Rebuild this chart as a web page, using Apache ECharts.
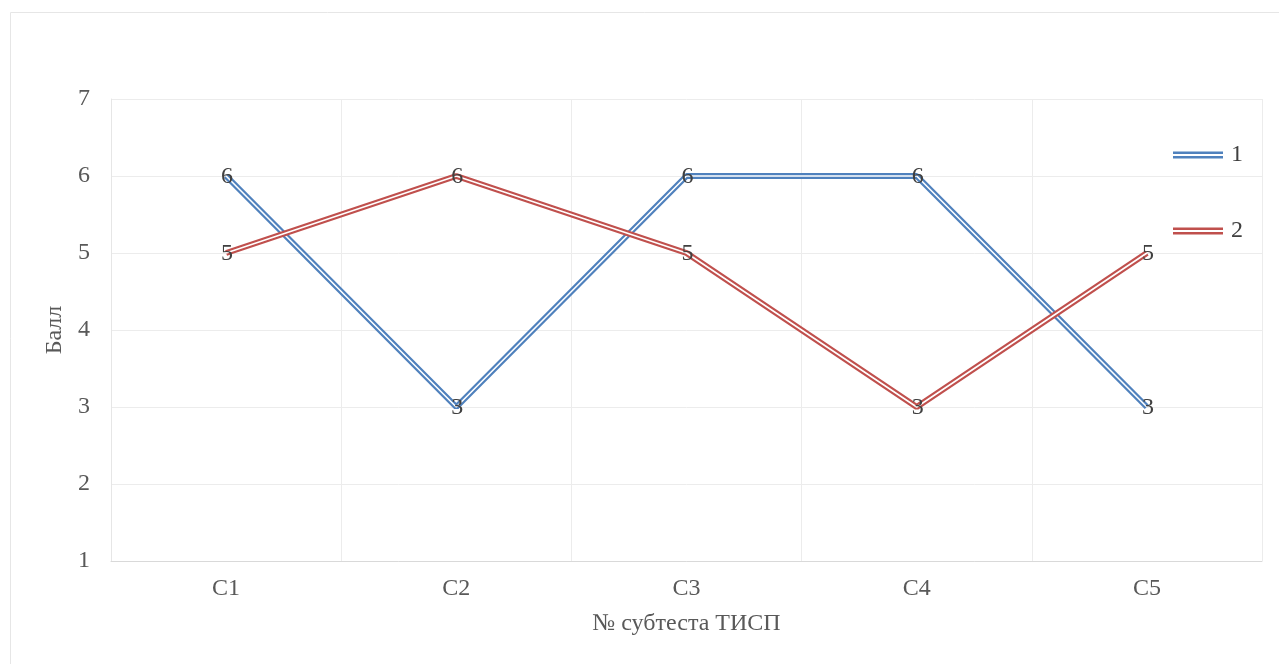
<!DOCTYPE html>
<html><head><meta charset="utf-8">
<script src="https://cdn.jsdelivr.net/npm/echarts@6/dist/echarts.min.js"></script>
<style>html,body{margin:0;padding:0;background:#fff}#c{width:1279px;height:664px}</style>
</head><body><div id="c"></div>
<script>
const categories = ['C1','C2','C3','C4','C5'];
const series1 = [6,3,6,6,3];
const series2 = [5,6,5,3,5];
const seriesNames = ['1','2'];
const yTicks = {min:1, max:7, interval:1};
const colors = ['#4F81BD','#C0504D'];
const FONT = '"Liberation Serif","Times New Roman",serif';

const chart = echarts.init(document.getElementById('c'), null, {renderer:'canvas'});
const data = [series1, series2];
const series = [];
data.forEach((d,i)=>{
  series.push({
    name: seriesNames[i], type:'line', data:d, symbol:'none',
    lineStyle:{color:colors[i], width:6}, itemStyle:{color:colors[i]}, z:2+i*2,
    silent:true
  });
});
data.forEach((d,i)=>{
  series.push({
    name: seriesNames[i]+'_inner', type:'line', data:d, symbol:'circle', symbolSize:1, showSymbol:true,
    lineStyle:{color:'#ffffff', width:1.6}, itemStyle:{color:'rgba(0,0,0,0)'}, z:3+i*2,
    label:{show:true, position:'inside', offset:[1,1], color:'#404040', fontFamily:FONT, fontSize:24},
    silent:true
  });
});

chart.setOption({
  animation:false,
  backgroundColor:'#fff',
  graphic:[
    {type:'line', shape:{x1:10.5,y1:12.5,x2:1279,y2:12.5}, style:{stroke:'#e6e6e6',lineWidth:1}},
    {type:'line', shape:{x1:10.5,y1:12.5,x2:10.5,y2:664}, style:{stroke:'#e6e6e6',lineWidth:1}}
  ],
  grid:{left:111, right:17, top:99, bottom:103},
  legend:{
    data:[
      {name:'1', icon:'path://M0,0H50V2.5H0Z M0,4.5H50V7H0Z'},
      {name:'2', icon:'path://M0,0H50V2.5H0Z M0,4.5H50V7H0Z'}
    ],
    orient:'vertical', left:1173, top:143, padding:0, itemWidth:50, itemHeight:7, itemGap:52,
    textStyle:{fontFamily:FONT, fontSize:24, color:'#404040', padding:[0,0,0,3]},
    selectedMode:false
  },
  xAxis:{
    type:'category', data:categories, boundaryGap:true,
    name:'№ субтеста ТИСП', nameLocation:'middle', nameGap:51,
    nameTextStyle:{fontFamily:FONT, fontSize:24, color:'#595959'},
    axisLine:{show:true, lineStyle:{color:'#d9d9d9'}},
    axisTick:{show:false},
    axisLabel:{fontFamily:FONT, fontSize:24, color:'#595959', margin:16},
    splitLine:{show:true, lineStyle:{color:'#ececec'}}
  },
  yAxis:{
    type:'value', min:yTicks.min, max:yTicks.max, interval:yTicks.interval,
    name:'Балл', nameLocation:'middle', nameGap:42,
    nameTextStyle:{fontFamily:FONT, fontSize:24, color:'#595959'},
    axisLine:{show:true, lineStyle:{color:'#e6e6e6'}},
    axisTick:{show:false},
    axisLabel:{fontFamily:FONT, fontSize:24, color:'#595959', margin:21},
    splitLine:{show:true, lineStyle:{color:'#ececec'}}
  },
  series: series
});
</script></body></html>
